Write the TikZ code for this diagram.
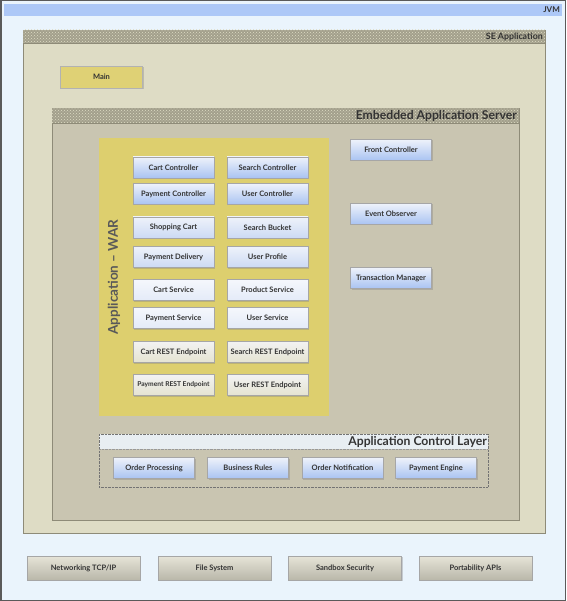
\documentclass[tikz,border=0pt]{standalone}
\usepackage{fontspec}
\setmainfont{Lato}
\usetikzlibrary{shadows,patterns}

\definecolor{jvmfill}{HTML}{EAF4FC}
\definecolor{jvmbar}{HTML}{ADC8F7}
\definecolor{frame}{HTML}{5A5A5A}
\definecolor{sefill}{HTML}{DEDCC5}
\definecolor{hatch}{HTML}{A3A08C}
\definecolor{easfill}{HTML}{C9C5B1}
\definecolor{warfill}{HTML}{DDCF6E}
\definecolor{aclhead}{HTML}{E8EEF2}
\definecolor{boxline}{HTML}{8E8B78}
\definecolor{txt}{HTML}{333333}
\definecolor{btntop}{HTML}{EEF2FA}
\definecolor{btnmid}{HTML}{CCDAF4}
\definecolor{btnbot}{HTML}{A9C3F2}
\definecolor{graytop}{HTML}{E6E4D8}
\definecolor{graybot}{HTML}{B9B7A9}

\tikzset{
  btn/.style={rectangle, minimum width=81pt, minimum height=21pt, inner sep=1pt,
    draw=black!35, text=txt, font=\fontsize{7.5}{8}\selectfont\bfseries,
    drop shadow={shadow xshift=1pt, shadow yshift=-1pt, opacity=0.35}},
  btnblue/.style={btn, top color=btntop, middle color=btnmid, bottom color=btnbot},
  btnlight/.style={btn, top color=btntop, middle color=btntop!60!btnmid, bottom color=btnmid},
  btnpale/.style={btn, top color=btntop!60!white, bottom color=btntop!70!btnmid},
  btnrest/.style={btn, top color=white!95!black, bottom color=sefill!80!white},
  btngray/.style={btn, minimum width=113pt, minimum height=24pt,
    top color=graytop, bottom color=graybot},
  btnyellow/.style={btn, minimum width=82pt, minimum height=22pt,
    fill=warfill!95!white, draw=black!30},
  title/.style={inner sep=1pt, text=txt},
}

\begin{document}
\begin{tikzpicture}[x=1pt, y=-1pt]
  \useasboundingbox (0,0) rectangle (566,601);

  % JVM
  \draw[fill=jvmfill, draw=frame, line width=1.5pt] (0.75,0.75) rectangle (565.25,600.25);
  \fill[jvmbar] (4,4) rectangle (562,16);
  \node[title, anchor=east, font=\fontsize{8}{9}\selectfont\bfseries] (jvm) at (561,10) {JVM};

  % SE Application
  \draw[fill=sefill, draw=boxline] (23,30) rectangle (545,533);
  \fill[hatch] (23,30) rectangle (545,43);
  \fill[pattern=crosshatch dots, pattern color=sefill] (23,30) rectangle (545,43);
  \draw[boxline] (23,43) -- (545,43);
  \node[title, anchor=east, font=\fontsize{8.8}{9}\selectfont\bfseries] (se) at (544,36.5) {SE Application};

  \node[btnyellow] (main) at (101.5,77) {Main};

  % Embedded Application Server
  \draw[fill=easfill, draw=boxline] (52,108) rectangle (519,520);
  \fill[hatch] (52,108) rectangle (519,123);
  \fill[pattern=crosshatch dots, pattern color=sefill] (52,108) rectangle (519,123);
  \draw[boxline] (52,123) -- (519,123);
  \node[title, anchor=east, font=\fontsize{12.2}{13}\selectfont\bfseries] (eas) at (518,115.5) {Embedded Application Server};

  \node[btnblue] (frontctl) at (391,150) {Front Controller};
  \node[btnblue] (evtobs) at (391,214) {Event Observer};
  \node[btnblue] (txmgr) at (391,278) {Transaction Manager};

  % Application - WAR
  \fill[warfill] (99,138) rectangle (329,416);
  \node[title, rotate=90, text=black!65, font=\fontsize{13.5}{14}\selectfont\bfseries] (war) at (114,277) {Application -- WAR};

  \node[btnblue] (cartctl) at (173.5,167.5) {Cart Controller};
  \node[btnblue] (searchctl) at (267.5,167.5) {Search Controller};
  \node[btnblue] (payctl) at (173.5,194) {Payment Controller};
  \node[btnblue] (userctl) at (267.5,194) {User Controller};

  \node[btnlight] (shopcart) at (173.5,227.5) {Shopping Cart};
  \node[btnlight] (searchbkt) at (267.5,227.5) {Search Bucket};
  \node[btnlight] (paydel) at (173.5,257) {Payment Delivery};
  \node[btnlight] (userprof) at (267.5,257) {User Profile};

  \node[btnpale] (cartsvc) at (173.5,290) {Cart Service};
  \node[btnpale] (prodsvc) at (267.5,290) {Product Service};
  \node[btnpale] (paysvc) at (173.5,318) {Payment Service};
  \node[btnpale] (usersvc) at (267.5,318) {User Service};

  \node[btnrest] (cartrest) at (173.5,352) {Cart REST Endpoint};
  \node[btnrest] (searchrest) at (267.5,352) {Search REST Endpoint};
  \node[btnrest, font=\fontsize{6.7}{8}\selectfont\bfseries] (payrest) at (173.5,385) {Payment REST Endpoint};
  \node[btnrest] (userrest) at (267.5,385) {User REST Endpoint};

  % Application Control Layer
  \fill[aclhead] (99,434) rectangle (488,449);
  \draw[black!55, densely dotted] (99,434) rectangle (488,487);
  \draw[black!40, densely dotted] (99,449) -- (488,449);
  \node[title, anchor=east, font=\fontsize{12.2}{13}\selectfont\bfseries] (acl) at (488,441.5) {Application Control Layer};

  \node[btnblue] (orderproc) at (154,468) {Order Processing};
  \node[btnblue] (bizrules) at (248,468) {Business Rules};
  \node[btnblue] (ordernote) at (342.5,468) {Order Notification};
  \node[btnblue] (payeng) at (436,468) {Payment Engine};

  % Platform services
  \node[btngray] (network) at (83.5,568) {Networking TCP/IP};
  \node[btngray] (filesys) at (214.5,568) {File System};
  \node[btngray] (sandbox) at (345,568) {Sandbox Security};
  \node[btngray] (portapi) at (475.5,568) {Portability APIs};
\end{tikzpicture}
\end{document}
